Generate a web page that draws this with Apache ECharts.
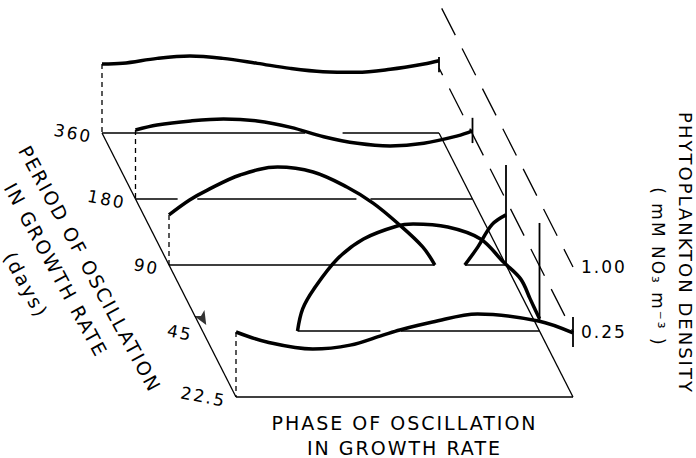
<!DOCTYPE html>
<html><head><meta charset="utf-8">
<script src="https://cdn.jsdelivr.net/npm/echarts@6/dist/echarts.min.js"></script>
<style>
html,body{margin:0;padding:0;background:#fff;}
#main{width:696px;height:458px;}
#main text{letter-spacing:2px;}
</style></head><body><div id="main"></div>
<script>
// Period of oscillation levels (days), front (bottom) to back (top)
const periods = ['22.5', '45', '90', '180', '360'];
// Density scale (log) and its labelled ticks
const densityMin = 0.0625, densityMax = 1.0;
const densityTicks = [0.25, 1.00];

// Phase of oscillation (degrees) and phytoplankton density per period
const phase22 = [0, 33, 82, 122, 157, 175, 210, 258, 323, 360];
const dens22  = [0.25, 0.202, 0.174, 0.189, 0.234, 0.261, 0.309, 0.367, 0.316, 0.245];

const phase45 = [101.5, 107, 119, 144, 172, 208, 225, 262, 297, 321.5, 340, 350, 360];
const dens45  = [0.0625, 0.100, 0.153, 0.290, 0.445, 0.587, 0.612, 0.574, 0.445, 0.272, 0.189, 0.124, 0.081];

const phase90 = [0, 22, 41, 76, 116, 154, 190, 218, 244, 271, 284, 300, 316, 330, 345, 360];
const dens90  = [0.182, 0.25, 0.309, 0.426, 0.505, 0.454, 0.330, 0.234, 0.153, 0.092, 0.0625, null, 0.0625, 0.092, 0.148, 0.182];

const phase180 = [0, 23, 59, 94, 130, 166, 201, 237, 272, 308, 344, 360];
const dens180  = [0.272, 0.303, 0.330, 0.344, 0.330, 0.288, 0.236, 0.205, 0.194, 0.205, 0.240, 0.267];

const phase360 = [0, 22, 59, 94, 129, 166, 201, 236, 272, 308, 344, 360];
const dens360  = [0.272, 0.276, 0.307, 0.323, 0.307, 0.276, 0.248, 0.231, 0.228, 0.243, 0.272, 0.292];

// End-of-cycle marker bars (density low / high) per period
const tickLo = [0.182, 0.079, 0.0625, 0.206, 0.228];
const tickHi = [0.344, 0.626, 0.527, 0.353, 0.316];

// Visible stretches of each base line (phase ranges)
const base22  = [[0, 360]];
const base45  = [[101.5, 190], [212, 360]];
const base90  = [[0, 284], [316, 360]];
const base180 = [[0, 45], [66, 236], [251, 360]];
const base360 = [[0, 217], [257, 360]];

const phases = [phase22, phase45, phase90, phase180, phase360];
const dens = [dens22, dens45, dens90, dens180, dens360];
const bases = [base22, base45, base90, base180, base360];

const FONT = 'DejaVu Sans';
const INK = '#000';
const chart = echarts.init(document.getElementById('main'), null, {renderer: 'svg'});

const grids = [], xAxes = [], yAxes = [], series = [];
for (let i = 0; i < 5; i++) {
  grids.push({left: 236 - 33.5 * i, top: 397 - 66 * i - 130, width: 337, height: 130,
              containLabel: false, outerBoundsMode: 'none'});
  const xa = {gridIndex: i, type: 'value', min: 0, max: 360,
    axisLine: {show: false}, axisTick: {show: false}, axisLabel: {show: false}, splitLine: {show: false}};
  if (i === 0) {
    Object.assign(xa, {name: 'PHASE OF OSCILLATION\nIN GROWTH RATE', nameLocation: 'middle', nameGap: 13,
      nameTextStyle: {fontFamily: FONT, fontSize: 19, lineHeight: 25, color: INK, align: 'center'}});
  }
  xAxes.push(xa);
  yAxes.push({gridIndex: i, type: 'log', logBase: 4, min: densityMin, max: densityMax,
    axisLine: {show: false}, axisTick: {show: false}, splitLine: {show: false}, axisLabel: {show: false}});

  // curve
  series.push({type: 'line', xAxisIndex: i, yAxisIndex: i, smooth: 0.35, symbol: 'none', clip: false, z: 4,
    lineStyle: {color: INK, width: 3.5},
    data: phases[i].map((p, k) => [p, dens[i][k]])});
  // base line segments
  const bd = [];
  bases[i].forEach((s, k) => {
    if (k > 0) bd.push([(bases[i][k - 1][1] + s[0]) / 2, null]);
    bd.push([s[0], densityMin], [s[1], densityMin]);
  });
  series.push({type: 'line', xAxisIndex: i, yAxisIndex: i, symbol: 'none', clip: false, z: 2,
    lineStyle: {color: INK, width: 1.3}, data: bd});
  // dashed drop line at the start of the cycle
  if (phases[i][0] === 0) {
    series.push({type: 'line', xAxisIndex: i, yAxisIndex: i, symbol: 'none', clip: false, z: 2,
      lineStyle: {color: INK, width: 1.3, type: [5, 4]},
      data: [[0, dens[i][0]], [0, densityMin]]});
  }
  // end-of-cycle bar
  series.push({type: 'line', xAxisIndex: i, yAxisIndex: i, symbol: 'none', clip: false, z: 3,
    lineStyle: {color: INK, width: 1.8},
    data: [[360, tickLo[i]], [360, tickHi[i]]]});
}
// density scale labels on the right of the front plane
yAxes.push({gridIndex: 0, position: 'right', type: 'log', logBase: 4, min: densityMin, max: densityMax,
  axisLine: {show: false}, axisTick: {show: false}, splitLine: {show: false},
  axisLabel: {margin: 8, fontFamily: FONT, fontSize: 17, color: INK,
    formatter: v => densityTicks.some(t => Math.abs(t - v) < 1e-6) ? v.toFixed(2) : ''}});
// small arrow marker at the 45-day level
series.push({type: 'scatter', xAxisIndex: 1, yAxisIndex: 1, symbol: 'arrow', symbolSize: [9, 14],
  symbolRotate: -150, itemStyle: {color: INK}, clip: false, data: [[4, 0.071]]});

chart.setOption({animation: false, backgroundColor: '#fff', textStyle: {fontFamily: FONT},
  grid: grids, xAxis: xAxes, yAxis: yAxes, series: series});

const px = (i, x, y) => chart.convertToPixel({xAxisIndex: i, yAxisIndex: i}, [x, y]);
const seg = (a, b, extra) => Object.assign({type: 'line', silent: true,
  shape: {x1: a[0], y1: a[1], x2: b[0], y2: b[1]},
  style: Object.assign({stroke: INK, lineWidth: 1.3}, extra || {})});
const txt = (x, y, text, size, rot, align) => ({type: 'text', x: x, y: y, rotation: rot, silent: true,
  style: {text: text, fill: INK, font: size + 'px "' + FONT + '"', align: align || 'center', verticalAlign: 'middle'}});

const rotL = -61.5 * Math.PI / 180;
const rotP = -11 * Math.PI / 180;
const periodLabels = periods.map((p, i) => {
  const c = px(i, 0, densityMin);
  return txt(c[0] - 10, c[1] + 4, p, 17, rotP, 'right');
});
chart.setOption({graphic: [
  seg(px(4, 0, densityMin), px(0, 0, densityMin)),
  seg(px(4, 360, densityMin), px(0, 360, densityMin)),
  seg(px(4, 360, densityTicks[0]), px(0, 360, densityTicks[0]), {lineDash: [30, 15], lineDashOffset: 22}),
  seg(px(4, 360, densityTicks[1]), px(0, 360, densityTicks[1]), {lineDash: [30, 15], lineDashOffset: 39}),
  ...periodLabels,
  txt(90, 269, 'PERIOD OF OSCILLATION', 19, rotL),
  txt(56, 270, 'IN GROWTH RATE', 19, rotL),
  txt(26, 285, '(days)', 19, rotL),
  txt(685, 253, 'PHYTOPLANKTON DENSITY', 18, -Math.PI / 2),
  txt(658, 267, '( mM NO₃ m⁻³ )', 17, -Math.PI / 2)
]});
</script></body></html>
